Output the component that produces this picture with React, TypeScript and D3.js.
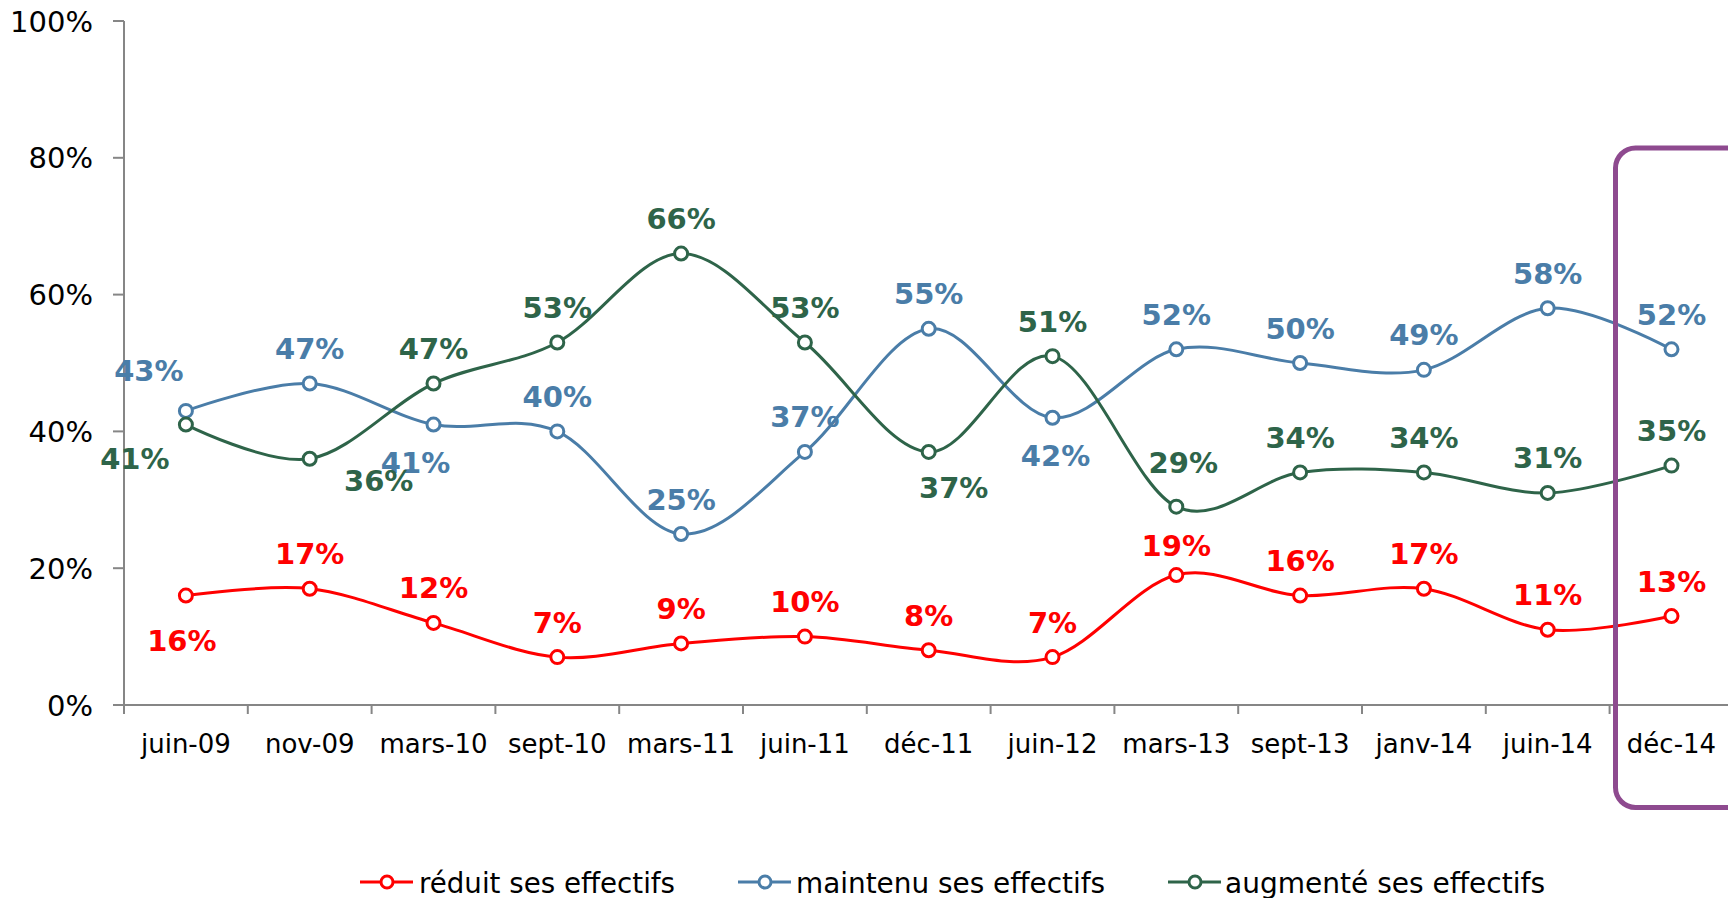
import React from "react";
import * as d3 from "d3";

const categories = ["juin-09","nov-09","mars-10","sept-10","mars-11","juin-11","déc-11","juin-12","mars-13","sept-13","janv-14","juin-14","déc-14"];
const reduit = [16,17,12,7,9,10,8,7,19,16,17,11,13];
const maintenu = [43,47,41,40,25,37,55,42,52,50,49,58,52];
const augmente = [41,36,47,53,66,53,37,51,29,34,34,31,35];
const yTicks = [0,20,40,60,80,100];
const seriesNames = ["réduit ses effectifs","maintenu ses effectifs","augmenté ses effectifs"];

// label placement keywords per point
const reduitPos = ["b0","a","a","a","a","a","a","a","a19","a","a","a","a"];
const maintenuPos = ["al","a","bl","a","a","a","a","b","a","a","a","a","a"];
const augmentePos = ["bll","br","a","a","a","a","br2","a","a29","a","a","a","a"];

const offsets: Record<string, [number, number]> = {
  a: [0, -35],
  a19: [0, -30],
  a29: [7, -44],
  b0: [-4, 45],
  al: [-37, -40],
  bl: [-18, 38],
  b: [3, 38],
  bll: [-51, 34],
  br: [69, 22],
  br2: [25, 36],
};

const W = 1728, H = 898;

export default function App() {
  const x = d3.scaleBand<string>().domain(categories).range([124, 124 + 13 * 123.8]);
  const y = d3.scaleLinear().domain([0, 100]).range([705, 21]);
  const line = d3.line<number>()
    .x((_, i) => (x(categories[i]) as number) + x.bandwidth() / 2)
    .y((d) => y(d))
    .curve(d3.curveCardinal.tension(0));

  const series = [
    { name: seriesNames[0], values: reduit, pos: reduitPos, color: "#FF0000" },
    { name: seriesNames[1], values: maintenu, pos: maintenuPos, color: "#4A7DA8" },
    { name: seriesNames[2], values: augmente, pos: augmentePos, color: "#2E6449" },
  ];
  const axisColor = "#868686";
  const legendX = [360, 738, 1168];
  const legendTextX = [419, 796, 1225];
  const legendTextW = [256, 309, 320];

  return (
    <svg width={W} height={H} style={{ position: "absolute", left: 0, top: 0, background: "#fff" }}>
      {/* axes */}
      <line x1={124} x2={124} y1={y(100)} y2={y(0)} stroke={axisColor} strokeWidth={2} />
      <line x1={124} x2={x.range()[1]} y1={y(0)} y2={y(0)} stroke={axisColor} strokeWidth={2} />
      {yTicks.map((t) => (
        <g key={t}>
          <line x1={113} x2={124} y1={y(t)} y2={y(t)} stroke={axisColor} strokeWidth={2} />
          <text x={93} y={y(t) + 10.5} textAnchor="end" fontFamily="DejaVu Sans" fontSize={29} fill="#000">{t}%</text>
        </g>
      ))}
      {categories.map((c) => (
        <g key={c}>
          <line x1={x(c) as number} x2={x(c) as number} y1={y(0)} y2={y(0) + 9} stroke={axisColor} strokeWidth={2} />
          <text x={(x(c) as number) + x.bandwidth() / 2} y={753} textAnchor="middle" fontFamily="DejaVu Sans" fontSize={26} fill="#000">{c}</text>
        </g>
      ))}
      {/* lines */}
      {series.map((s) => (
        <g key={s.name}>
          <path d={line(s.values) as string} fill="none" stroke={s.color} strokeWidth={3} />
          {s.values.map((v, i) => (
            <circle key={i} cx={(x(categories[i]) as number) + x.bandwidth() / 2} cy={y(v)} r={6.5} fill="#fff" stroke={s.color} strokeWidth={3} />
          ))}
        </g>
      ))}
      {/* labels */}
      {series.map((s) => (
        <g key={s.name + "l"}>
          {s.values.map((v, i) => {
            const [dx, dy] = offsets[s.pos[i]];
            const cx = (x(categories[i]) as number) + x.bandwidth() / 2 + dx;
            const cy = y(v) + dy;
            return (
              <text key={i} x={cx} y={cy + 10.5} textAnchor="middle" fontFamily="DejaVu Sans" fontWeight="bold" fontSize={29} fill={s.color}>{v}%</text>
            );
          })}
        </g>
      ))}
      {/* highlight box */}
      <rect x={1615.5} y={148} width={160} height={659.5} rx={20} ry={20} fill="none" stroke="#8E4A8F" strokeWidth={5} />
      {/* legend */}
      {series.map((s, i) => (
        <g key={s.name + "leg"}>
          <line x1={legendX[i]} x2={legendX[i] + 53} y1={882} y2={882} stroke={s.color} strokeWidth={3} />
          <circle cx={legendX[i] + 27} cy={882} r={6} fill="#fff" stroke={s.color} strokeWidth={3} />
          <text x={legendTextX[i]} y={893} fontFamily="DejaVu Sans" fontSize={28} textLength={legendTextW[i]} lengthAdjust="spacingAndGlyphs" fill="#000">{s.name}</text>
        </g>
      ))}
    </svg>
  );
}
